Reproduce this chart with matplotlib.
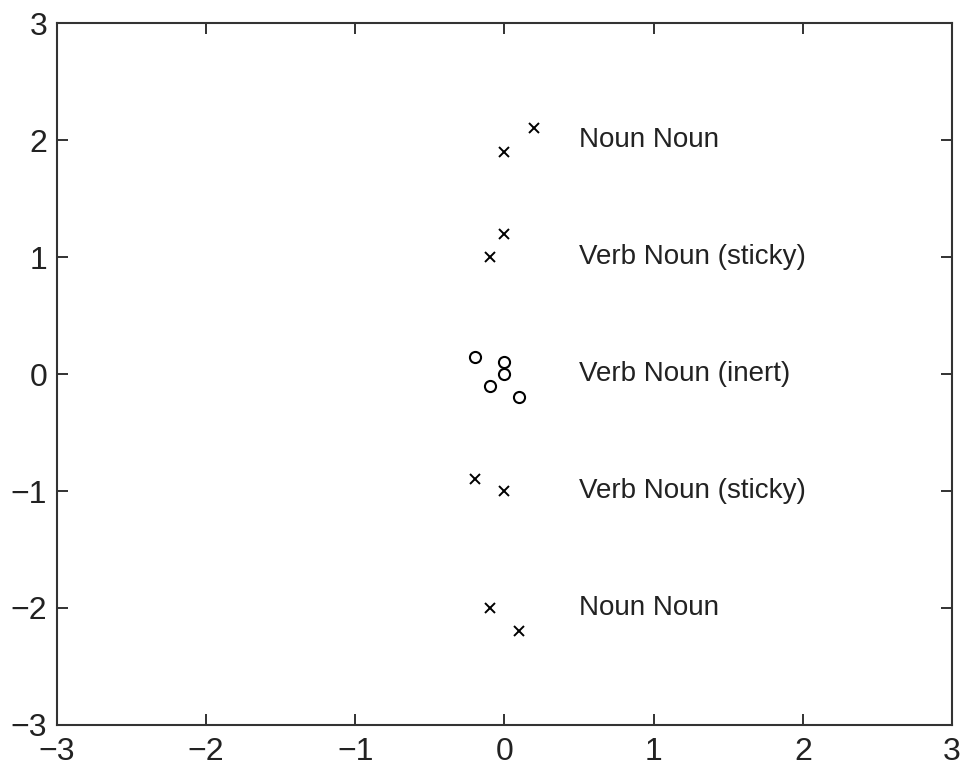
import numpy as np
import matplotlib.pyplot as plt

plt.rcParams['font.family'] = ['Liberation Sans', 'DejaVu Sans']

# points plotted as crosses
cross_x = [0.2, 0.0, 0.0, -0.1, -0.2, 0.0, -0.1, 0.1]
cross_y = [2.1, 1.9, 1.2, 1.0, -0.9, -1.0, -2.0, -2.2]

# points plotted as circles
circ_x = [-0.2, 0.0, 0.0, -0.1, 0.1]
circ_y = [0.15, 0.1, 0.0, -0.1, -0.2]

labels = ['Noun Noun', 'Verb Noun (sticky)', 'Verb Noun (inert)',
          'Verb Noun (sticky)', 'Noun Noun']
label_y = [2, 1, 0, -1, -2]
label_x = 0.5

fig = plt.figure(figsize=(9.66, 7.71), dpi=100)
ax = fig.add_axes([0.059, 0.0597, 0.9265, 0.9103])

ax.plot(cross_x, cross_y, 'kx', markersize=7, markeredgewidth=1.4)
ax.plot(circ_x, circ_y, 'ko', markersize=8, markerfacecolor='none', markeredgewidth=1.5)

for ly, t in zip(label_y, labels):
    ax.text(label_x, ly, t, fontsize=20, va='center', ha='left', color='#222222')

ax.set_xlim(-3, 3)
ax.set_ylim(-3, 3)
ax.set_xticks(np.arange(-3, 4))
ax.set_yticks(np.arange(-3, 4))
ticklabels = ['\u22123', '\u22122', '\u22121', '0', '1', '2', '3']
ax.set_xticklabels(ticklabels)
ax.set_yticklabels(ticklabels)
ax.tick_params(direction='in', length=8, width=1.3, labelsize=23,
               top=True, right=True, colors='#222222')
ax.tick_params(axis='x', pad=9)
ax.tick_params(axis='y', pad=7)
for s in ax.spines.values():
    s.set_linewidth(1.5)
    s.set_color('#333333')

fig.savefig('out.png', dpi=100)
